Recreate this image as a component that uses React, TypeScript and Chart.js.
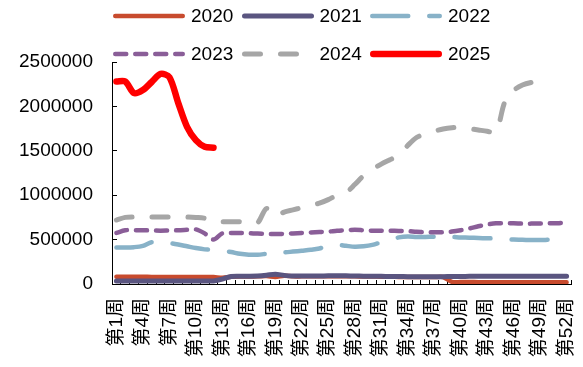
import React, { useEffect, useRef } from 'react';
import { Chart, registerables } from 'chart.js';

Chart.register(...registerables);

const weeks = [
  '第1周', '第2周', '第3周', '第4周', '第5周', '第6周', '第7周', '第8周', '第9周', '第10周',
  '第11周', '第12周', '第13周', '第14周', '第15周', '第16周', '第17周', '第18周', '第19周', '第20周',
  '第21周', '第22周', '第23周', '第24周', '第25周', '第26周', '第27周', '第28周', '第29周', '第30周',
  '第31周', '第32周', '第33周', '第34周', '第35周', '第36周', '第37周', '第38周', '第39周', '第40周',
  '第41周', '第42周', '第43周', '第44周', '第45周', '第46周', '第47周', '第48周', '第49周', '第50周',
  '第51周', '第52周',
];

const seriesNames = ['2020', '2021', '2022', '2023', '2024', '2025'];

const s2020 = [
  82000, 82000, 81000, 81000, 80000, 80000, 80000, 79000, 79000, 78000, 78000, 78000,
  70000, 81000, 84000, 84000, 86000, 90000, 80000, 92000,
  86000, 86000, 86000, 86000, 88000, 88000, 88000, 86000, 84000, 84000,
  82000, 81000, 80000, 79000, 78000, 78000, 78000, 79000, 24000, 22000,
  22000, 21000, 21000, 21000, 20000, 20000, 20000, 21000, 21000, 21000, 21000, 20000,
];

const s2021 = [
  33000, 33000, 33000, 33000, 33000, 33000, 33000, 33000, 33000, 33000, 33000, 35000,
  55000, 85000, 88000, 88000, 90000, 98000, 110000, 97000,
  90000, 90000, 90000, 90000, 92000, 92000, 92000, 90000, 88000, 88000,
  86000, 85000, 84000, 83000, 82000, 82000, 82000, 83000, 84000, 85000,
  86000, 86000, 86000, 86000, 87000, 87000, 87000, 87000, 87000, 88000, 88000, 88000,
];

const s2022 = [
  410000, 410000, 415000, 430000, 470000, 465000, 460000, 445000, 425000, 405000,
  390000, 385000, 375000, 360000, 340000, 330000, 330000, 340000, 350000, 355000,
  365000, 375000, 385000, 400000, 430000, 440000, 430000, 420000, 425000, 440000,
  470000, 500000, 525000, 535000, 530000, 530000, 532000, 532000, 530000, 525000,
  522000, 518000, 515000, 512000, 505000, 500000, 498000, 495000, 495000, 500000,
  530000, 560000,
];

const s2023 = [
  575000, 605000, 605000, 605000, 603000, 600000, 603000, 605000, 610000, 615000,
  570000, 500000, 570000, 575000, 575000, 572000, 568000, 565000, 563000, 565000,
  570000, 575000, 580000, 585000, 590000, 600000, 605000, 610000, 605000, 600000,
  600000, 600000, 598000, 595000, 588000, 583000, 582000, 582000, 590000, 605000,
  625000, 650000, 670000, 683000, 683000, 683000, 680000, 680000, 682000, 683000,
  685000, 695000,
];

const s2024 = [
  720000, 750000, 755000, 755000, 755000, 755000, 755000, 755000, 755000, 750000,
  740000, 700000, 700000, 700000, 700000, 680000, 690000, 850000, 760000, 810000,
  835000, 860000, 885000, 910000, 950000, 1000000, 1030000, 1120000, 1220000, 1290000,
  1350000, 1400000, 1450000, 1560000, 1650000, 1690000, 1720000, 1745000, 1760000, 1765000,
  1750000, 1735000, 1720000, 1710000, 2050000, 2180000, 2240000, 2270000, 2285000, 2275000,
];

const s2025 = [
  2280000, 2280000, 2150000, 2185000, 2275000, 2365000, 2330000, 2040000, 1770000, 1620000,
  1545000, 1535000,
];

const seriesColors = ['#C84B2E', '#5A5580', '#88B2C8', '#8A5E98', '#A6A6A6', '#FF0000'];
const seriesDashes: number[][] = [[], [], [36, 21], [11, 9], [16, 20], []];
const seriesWidths = [4.5, 5, 4.5, 4.5, 5, 6.5];

const yTicks = { min: 0, max: 2500000, step: 500000 };

const FONT = "'Liberation Sans', Arial, 'Noto Sans CJK SC', sans-serif";

export default function App() {
  const ref = useRef<HTMLCanvasElement>(null);

  useEffect(() => {
    const values = [s2020, s2021, s2022, s2023, s2024, s2025];
    const chart = new Chart(ref.current as HTMLCanvasElement, {
      type: 'line',
      data: {
        labels: weeks,
        datasets: seriesNames.map((name, i) => ({
          label: name,
          data: values[i],
          borderColor: seriesColors[i],
          backgroundColor: seriesColors[i],
          borderWidth: seriesWidths[i],
          borderDash: seriesDashes[i],
          borderCapStyle: 'round',
          borderJoinStyle: 'round',
          pointRadius: 0,
          pointHoverRadius: 0,
          tension: 0.3,
          fill: false,
          order: 5 - i,
        })),
      },
      options: {
        responsive: false,
        animation: false,
        events: [],
        layout: { padding: { left: 0, right: 12, top: 62, bottom: 0 } },
        plugins: { legend: { display: false }, tooltip: { enabled: false } },
        scales: {
          x: {
            type: 'category',
            offset: true,
            grid: {
              display: true,
              drawOnChartArea: false,
              drawTicks: true,
              tickLength: -4,
              color: '#000',
              offset: true,
            },
            border: { display: true, color: '#000', width: 1 },
            ticks: {
              autoSkip: false,
              maxRotation: 90,
              minRotation: 90,
              padding: 18,
              color: '#000',
              font: { family: FONT, size: 19 },
              callback: (_v: any, i: number) => (i % 3 === 0 ? weeks[i] : ''),
            },
            afterFit: (s: any) => {
              s.height = 83;
              s.paddingLeft = 0;
              s.paddingRight = 0;
            },
          },
          y: {
            min: yTicks.min,
            max: yTicks.max,
            grid: {
              drawOnChartArea: false,
              drawTicks: true,
              tickLength: -5,
              color: '#000',
            },
            border: { display: true, color: '#000', width: 1 },
            ticks: {
              stepSize: yTicks.step,
              padding: 24,
              color: '#000',
              font: { family: FONT, size: 19 },
              callback: (v: any) => String(v),
            },
            afterFit: (s: any) => {
              s.width = 112;
            },
          },
        },
      },
    } as any);
    return () => chart.destroy();
  }, []);

  return (
    <div style={{ position: 'fixed', left: 0, top: 0, width: 583, height: 367, background: '#fff', overflow: 'hidden' }}>
      <canvas ref={ref} width={583} height={367} style={{ position: 'absolute', left: 0, top: 0, width: 583, height: 367 }} />
      {seriesNames.map((name, i) => {
        const col = i % 3;
        const row = Math.floor(i / 3);
        const w = seriesWidths[i];
        return (
          <div
            key={name}
            style={{
              position: 'absolute',
              left: 113 + col * 128.5,
              top: 16 + row * 38 - 15,
              height: 30,
              display: 'flex',
              alignItems: 'center',
              fontFamily: FONT,
              fontSize: 19,
              lineHeight: '30px',
              color: '#000',
              whiteSpace: 'nowrap',
            }}
          >
            <svg width={72} height={10} style={{ display: 'block' }}>
              <line
                x1={w / 2}
                y1={5}
                x2={72 - w / 2}
                y2={5}
                stroke={seriesColors[i]}
                strokeWidth={w}
                strokeLinecap="round"
                strokeDasharray={seriesDashes[i].length ? seriesDashes[i].join(' ') : undefined}
              />
            </svg>
            <span style={{ marginLeft: 6 }}>{name}</span>
          </div>
        );
      })}
    </div>
  );
}
